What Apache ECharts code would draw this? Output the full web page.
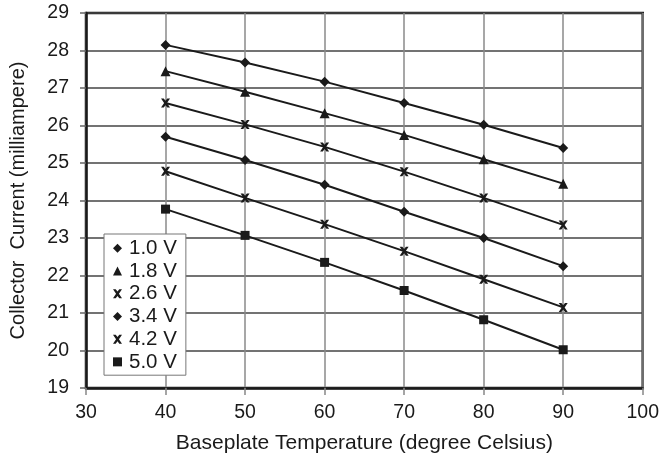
<!DOCTYPE html>
<html><head><meta charset="utf-8">
<script src="https://cdn.jsdelivr.net/npm/echarts@6/dist/echarts.min.js"></script>
<style>html,body{margin:0;padding:0;background:#fff}#c{width:662px;height:461px}</style>
</head><body><div id="c"></div>
<script>
const temps = [40, 50, 60, 70, 80, 90];
const seriesNames = ['1.0 V', '1.8 V', '2.6 V', '3.4 V', '4.2 V', '5.0 V'];
const v10 = [28.15, 27.68, 27.17, 26.6, 26.02, 25.4];
const v18 = [27.45, 26.9, 26.33, 25.75, 25.1, 24.45];
const v26 = [26.6, 26.03, 25.43, 24.77, 24.07, 23.35];
const v34 = [25.7, 25.08, 24.42, 23.7, 23.0, 22.25];
const v42 = [24.78, 24.07, 23.37, 22.65, 21.9, 21.15];
const v50 = [23.77, 23.07, 22.35, 21.6, 20.82, 20.02];
const allValues = [v10, v18, v26, v34, v42, v50];

const X = 'path://M0,0 L3,0 L5,2.6 L7,0 L10,0 L6.6,5 L10,10 L7,10 L5,7.4 L3,10 L0,10 L3.4,5 Z';
const symbols = ['diamond', 'triangle', X, 'diamond', X, 'rect'];
const sizes = [10, 10, 9, 10, 9, 9];
const font = 'Liberation Sans, Arial, sans-serif';

const chart = echarts.init(document.getElementById('c'));
chart.setOption({
  animation: false,
  grid: {left: 82, right: 19, top: 13, bottom: 73, show: true, borderColor: '#1a1a1a', borderWidth: 2.5},
  legend: {
    orient: 'vertical', left: 104, top: 234, itemGap: 0, itemWidth: 9, itemHeight: 9,
    backgroundColor: '#fff', borderColor: '#777', borderWidth: 1, padding: [3, 9, 2, 9],
    textStyle: {fontFamily: font, fontSize: 20.5, lineHeight: 22.7, color: '#1a1a1a', padding: [0, 0, 0, 2]},
    data: seriesNames.map((n, i) => ({name: n, icon: symbols[i], itemStyle: {color: '#1a1a1a'}}))
  },
  xAxis: {
    type: 'value', min: 30, max: 100, interval: 10,
    name: 'Baseplate Temperature (degree Celsius)', nameLocation: 'middle', nameGap: 45,
    nameTextStyle: {fontFamily: font, fontSize: 21, color: '#1a1a1a'},
    axisLine: {lineStyle: {color: '#1a1a1a', width: 2.5}},
    axisTick: {show: true, length: 7, lineStyle: {color: '#888', width: 1.5}},
    axisLabel: {fontFamily: font, fontSize: 19.5, color: '#1a1a1a', margin: 15},
    splitLine: {lineStyle: {color: '#8a8a8a', width: 1.5}}
  },
  yAxis: {
    type: 'value', min: 19, max: 29, interval: 1,
    name: 'Collector  Current (milliampere)', nameLocation: 'middle', nameGap: 58,
    nameTextStyle: {fontFamily: font, fontSize: 20, color: '#1a1a1a'},
    axisLine: {lineStyle: {color: '#1a1a1a', width: 2.5}},
    axisTick: {show: true, length: 6, lineStyle: {color: '#666', width: 1.5}},
    axisLabel: {fontFamily: font, fontSize: 19.5, color: '#1a1a1a', margin: 17},
    splitLine: {lineStyle: {color: '#444', width: 1.5}}
  },
  series: allValues.map((vals, i) => ({
    name: seriesNames[i], type: 'line',
    data: temps.map((t, j) => [t, vals[j]]),
    symbol: symbols[i], symbolSize: sizes[i],
    lineStyle: {color: '#1a1a1a', width: 2},
    itemStyle: {color: '#1a1a1a'}
  }))
});
</script></body></html>
